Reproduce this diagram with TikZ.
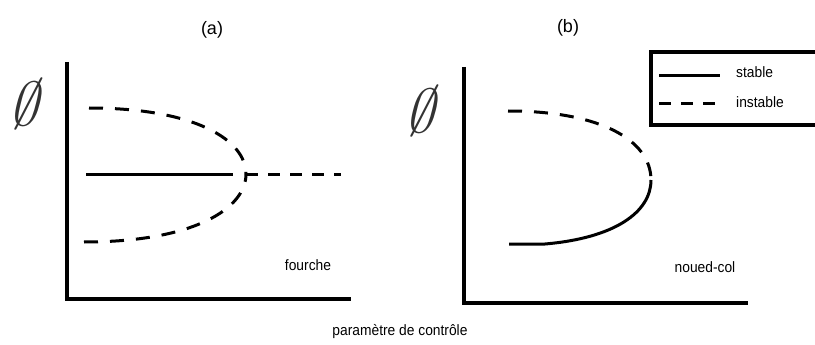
\documentclass[tikz,border=0pt]{standalone}
\usepackage{fontspec}
\setmainfont{Liberation Sans}
\usetikzlibrary{positioning, calc}
\newcommand{\phisym}{\scalebox{5.6}[6.2]{$\emptyset$}}

\begin{document}
\begin{tikzpicture}[x=1pt, y=-1pt,
  axis/.style={line width=3.2pt},
  stablebr/.style={line width=3pt},
  unstablebr/.style={line width=3pt, dash pattern=on 14pt off 12pt},
  lbl/.style={font=\fontsize{15}{15}\selectfont, inner sep=0pt, xscale=0.92},
  ttl/.style={font=\fontsize{18}{18}\selectfont, inner sep=0pt},
  philbl/.style={inner sep=0pt, xslant=0.25, opacity=0.8}
]
  \useasboundingbox (0,0) rectangle (815,345);

  % Panel (a): pitchfork
  \node[ttl] (titleA) at (212,30) {(a)};
  \node[philbl] (phiA) at (29,104) {\phisym};
  \draw[axis] (67,62) -- (67,299) -- (351,299);
  \draw[stablebr] (86,174) -- (233,174);
  \draw[unstablebr] (89,108) .. controls (195,108) and (246,140) .. (246,174);
  \draw[unstablebr] (84,242) .. controls (195,242) and (246,208) .. (246,174);
  \draw[unstablebr, dash pattern=on 12pt off 10pt] (246,174) -- (341,174);
  \node[lbl] (fourche) at (308,265) {fourche};

  % Panel (b): saddle-node
  \node[ttl] (titleB) at (568,28) {(b)};
  \node[philbl] (phiB) at (425,111) {\phisym};
  \draw[axis] (464,67) -- (464,303) -- (748,303);
  \draw[unstablebr] (508,111) .. controls (600,111) and (651,140) .. (651,180);
  \draw[stablebr] (509,244) -- (545,244) .. controls (615,238) and (651,212) .. (651,180);
  \node[lbl] (noeud) at (705,267) {noued-col};

  % Legend
  \draw[axis] (651,52) rectangle (822,125);
  \draw[stablebr] (659,76) -- (720,76);
  \draw[stablebr, dash pattern=on 12pt off 10pt] (659,104) -- (720,104);
  \node[lbl, anchor=west] (lstable) at (736,72) {stable};
  \node[lbl, anchor=west] (linstable) at (736,102) {instable};

  \node[lbl] (xlabel) at (400,332) {paramètre de contrôle};
\end{tikzpicture}
\end{document}
